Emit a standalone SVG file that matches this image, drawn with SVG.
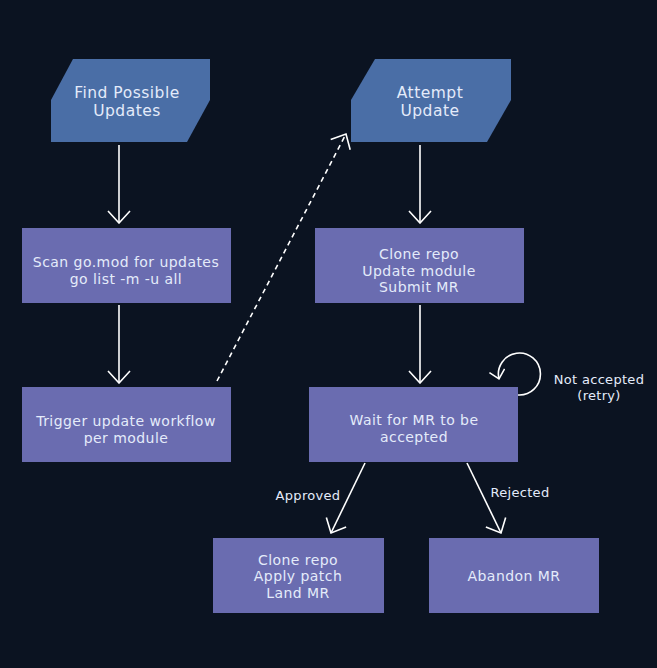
<svg xmlns="http://www.w3.org/2000/svg" width="657" height="668" viewBox="0 0 657 668">
<style>
.io{fill:#4a6ea6}
.box{fill:#6a6cb0}
.t{font-family:"DejaVu Sans","Liberation Sans",sans-serif;fill:#e4ebfa;text-anchor:middle;dominant-baseline:central}
.big{font-size:15.5px;letter-spacing:0.5px}
.n{font-size:14px;letter-spacing:0.45px}
.lbl{font-size:13px;letter-spacing:0.3px}
.c{stroke:#ffffff;stroke-width:1.6;fill:none}
</style>
<defs>
<marker id="ah" viewBox="0 0 14 24" refX="13" refY="12" markerWidth="14" markerHeight="24" markerUnits="userSpaceOnUse" orient="auto">
<path d="M1,1 L13,12 L1,23" fill="none" stroke="#ffffff" stroke-width="1.6"/>
</marker>
<marker id="ahs" viewBox="0 0 14 24" refX="13" refY="12" markerWidth="10" markerHeight="17" markerUnits="userSpaceOnUse" orient="auto">
<path d="M1,1 L13,12 L1,23" fill="none" stroke="#ffffff" stroke-width="2.2"/>
</marker>
</defs>
<rect width="657" height="668" fill="#0b1321"/>
<g id="connectors">
<line class="c" x1="119" y1="145" x2="119" y2="223" marker-end="url(#ah)"/>
<line class="c" x1="119" y1="305" x2="119" y2="383" marker-end="url(#ah)"/>
<line class="c" x1="420" y1="145" x2="420" y2="223" marker-end="url(#ah)"/>
<line class="c" x1="420" y1="305" x2="420" y2="383" marker-end="url(#ah)"/>
<line class="c" x1="217" y1="381" x2="346" y2="134" stroke-dasharray="5,4" marker-end="url(#ah)"/>
<line class="c" x1="365" y1="463" x2="331" y2="533" marker-end="url(#ah)"/>
<line class="c" x1="467" y1="463" x2="501" y2="533" marker-end="url(#ah)"/>
<path class="c" d="M518,395 A21,21 0 1 0 499,379" marker-end="url(#ahs)"/>
<text class="t lbl" x="308" y="495">Approved</text>
<text class="t lbl" x="520" y="492">Rejected</text>
<text class="t lbl" x="599" y="379">Not accepted</text>
<text class="t lbl" x="599" y="395">(retry)</text>
</g>
<g id="find">
<polygon class="io" points="73,59 210,59 210,100 187,142 51,142 51,100"/>
<text class="t big" x="127" y="93">Find Possible</text>
<text class="t big" x="127" y="111">Updates</text>
</g>
<g id="attempt">
<polygon class="io" points="375,59 511,59 511,100 487,142 351,142 351,100"/>
<text class="t big" x="430" y="93">Attempt</text>
<text class="t big" x="430" y="111">Update</text>
</g>
<g id="scan">
<rect class="box" x="22" y="228" width="209" height="75"/>
<text class="t n" x="126" y="262">Scan go.mod for updates</text>
<text class="t n" x="126" y="279">go list -m -u all</text>
</g>
<g id="trigger">
<rect class="box" x="22" y="387" width="209" height="75"/>
<text class="t n" x="126" y="421">Trigger update workflow</text>
<text class="t n" x="126" y="438">per module</text>
</g>
<g id="clone">
<rect class="box" x="315" y="228" width="209" height="75"/>
<text class="t n" x="419" y="254">Clone repo</text>
<text class="t n" x="419" y="270.5">Update module</text>
<text class="t n" x="419" y="287">Submit MR</text>
</g>
<g id="wait">
<rect class="box" x="309" y="387" width="209" height="75"/>
<text class="t n" x="414" y="420">Wait for MR to be</text>
<text class="t n" x="414" y="437">accepted</text>
</g>
<g id="land">
<rect class="box" x="213" y="538" width="171" height="75"/>
<text class="t n" x="298" y="559.5">Clone repo</text>
<text class="t n" x="298" y="576">Apply patch</text>
<text class="t n" x="298" y="592.5">Land MR</text>
</g>
<g id="abandon">
<rect class="box" x="429" y="538" width="170" height="75"/>
<text class="t n" x="514" y="576">Abandon MR</text>
</g>
</svg>
